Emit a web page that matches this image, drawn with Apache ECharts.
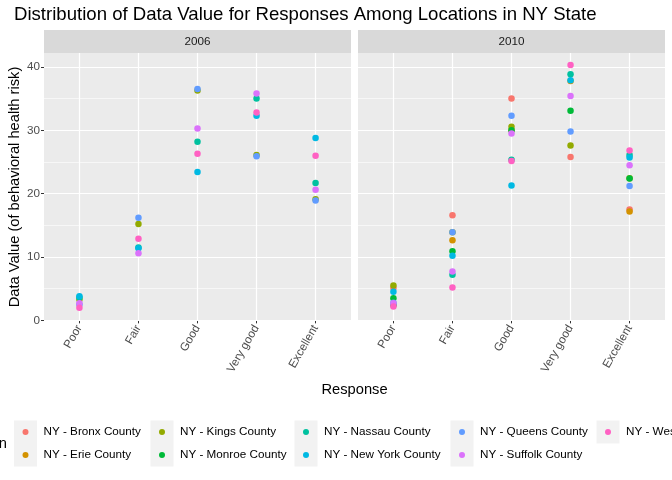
<!DOCTYPE html>
<html>
<head>
<meta charset="utf-8">
<script src="https://cdn.jsdelivr.net/npm/echarts@6/dist/echarts.min.js"></script>
<style>html,body{margin:0;padding:0;background:#fff}#c{width:672px;height:480px}</style>
</head>
<body>
<div id="c"></div>
<script>
// ---- data ----
var categories = ['Poor', 'Fair', 'Good', 'Very good', 'Excellent'];
var years = ['2006', '2010'];
var counties = ['NY - Bronx County', 'NY - Erie County', 'NY - Kings County', 'NY - Monroe County',
  'NY - Nassau County', 'NY - New York County', 'NY - Queens County', 'NY - Suffolk County',
  'NY - Westchester County'];
var colors = ['#F8766D', '#D39200', '#93AA00', '#00BA38', '#00C19F', '#00B9E3', '#619CFF', '#DB72FB', '#FF61C3'];
// values per county, in category order (null = no data that year)
var bronx2006 = null;
var erie2006 = null;
var kings2006 = [3.3, 15.2, 36.3, 26.1, 19.1];
var monroe2006 = null;
var nassau2006 = [3.6, 11.5, 28.2, 35.0, 21.7];
var newyork2006 = [3.8, 11.4, 23.4, 32.3, 28.8];
var queens2006 = [2.5, 16.2, 36.5, 25.9, 18.9];
var suffolk2006 = [2.7, 10.6, 30.3, 35.8, 20.6];
var westchester2006 = [2.0, 12.9, 26.3, 32.8, 26.0];

var bronx2010 = [5.1, 16.6, 35.0, 25.8, 17.5];
var erie2010 = [2.4, 12.65, 30.0, 37.8, 17.2];
var kings2010 = [5.5, 13.9, 30.55, 27.6, 22.45];
var monroe2010 = [3.5, 10.9, 30.0, 33.1, 22.4];
var nassau2010 = [2.5, 7.2, 25.35, 38.85, 26.1];
var newyork2010 = [4.5, 10.2, 21.3, 37.9, 25.7];
var queens2010 = [2.8, 13.9, 32.3, 29.8, 21.2];
var suffolk2010 = [2.7, 7.7, 29.5, 35.4, 24.5];
var westchester2010 = [2.2, 5.2, 25.15, 40.3, 26.8];

var yMajor = [0, 10, 20, 30, 40];
var yMinor = [5, 15, 25, 35];
var xPositions = [1, 2, 3, 4, 5];

var byYear = [
  [bronx2006, erie2006, kings2006, monroe2006, nassau2006, newyork2006, queens2006, suffolk2006, westchester2006],
  [bronx2010, erie2010, kings2010, monroe2010, nassau2010, newyork2010, queens2010, suffolk2010, westchester2010]
];

// ---- chart ----
var FONT = '"Liberation Sans", Arial, Helvetica, sans-serif';
var chart = echarts.init(document.getElementById('c'), null, {renderer: 'canvas'});
var panels = [{left: 44}, {left: 358}];
var PW = 307, PT = 53, PH = 268;

var grids = [], xAxes = [], yAxes = [], series = [], graphics = [];
panels.forEach(function (p, gi) {
  grids.push({left: p.left, top: PT, width: PW, height: PH, show: true, backgroundColor: '#EBEBEB', borderWidth: 0, containLabel: false});
  xAxes.push({
    type: 'value', gridIndex: gi, min: 0.4, max: 5.6,
    axisLine: {show: false},
    splitLine: {show: false},
    axisTick: {show: true, customValues: xPositions, length: 3, lineStyle: {color: '#333333', width: 1}},
    axisLabel: {customValues: xPositions, rotate: 60, margin: 5, color: '#4D4D4D', fontSize: 11.7, fontFamily: FONT,
      formatter: function (v) { return categories[Math.round(v) - 1] || ''; }}
  });
  yAxes.push({
    type: 'value', gridIndex: gi, min: -0.1, max: 42.2,
    axisLine: {show: false},
    splitLine: {show: false},
    axisTick: {show: gi === 0, customValues: yMajor, length: 3, lineStyle: {color: '#333333', width: 1}},
    axisLabel: {show: gi === 0, customValues: yMajor, margin: 4, color: '#4D4D4D', fontSize: 11.7, fontFamily: FONT},
    name: gi === 0 ? 'Data Value (of behavioral health risk)' : '',
    nameLocation: 'middle', nameRotate: 90, nameGap: 22,
    nameTextStyle: {color: '#000', fontSize: 14.7, fontFamily: FONT}
  });
  // grid lines via markLine on a helper series
  var ml = [];
  yMinor.forEach(function (v) { ml.push({yAxis: v, lineStyle: {width: 0.6, color: '#FFFFFF', type: 'solid'}}); });
  yMajor.forEach(function (v) { ml.push({yAxis: v, lineStyle: {width: 1.2, color: '#FFFFFF', type: 'solid'}}); });
  xPositions.forEach(function (v) { ml.push({xAxis: v, lineStyle: {width: 1.2, color: '#FFFFFF', type: 'solid'}}); });
  series.push({
    type: 'scatter', name: '_grid' + gi, xAxisIndex: gi, yAxisIndex: gi, data: [], z: 1,
    markLine: {silent: true, symbol: 'none', z: 1, label: {show: false}, animation: false, data: ml}
  });
  // strip
  graphics.push({type: 'rect', left: p.left, top: 30, shape: {width: PW, height: 23}, style: {fill: '#D9D9D9'}, z: 10});
  graphics.push({type: 'text', x: p.left + PW / 2, y: 42, style: {text: years[gi], fill: '#1A1A1A', font: '11.7px ' + FONT, textAlign: 'center', textVerticalAlign: 'middle'}, z: 11});
});

counties.forEach(function (name, ci) {
  for (var gi = 0; gi < 2; gi++) {
    var vals = byYear[gi][ci];
    var d = [];
    if (vals) vals.forEach(function (v, k) { if (v != null) d.push([xPositions[k], v]); });
    series.push({
      type: 'scatter', name: name, xAxisIndex: gi, yAxisIndex: gi, data: d,
      symbol: 'circle', symbolSize: 6.5, z: 3,
      itemStyle: {color: colors[ci], opacity: 1}
    });
  }
});

// legends: column-major, 2 rows
var legendCols = [14, 150.5, 294.5, 450.5, 596.5];
var legends = [];
for (var c = 0; c < 5; c++) {
  var items = counties.slice(c * 2, c * 2 + 2);
  legends.push({
    orient: 'vertical', left: legendCols[c] + 8.5, top: 420.5, padding: 0, itemGap: 0,
    itemWidth: 6, itemHeight: 6, icon: 'circle', selectedMode: false,
    data: items,
    textStyle: {color: '#000', fontSize: 11.7, fontFamily: FONT, lineHeight: 23, padding: [0, 0, 0, 10]}
  });
  graphics.push({type: 'rect', left: legendCols[c], top: 420.5, shape: {width: 23, height: 23 * items.length}, style: {fill: '#F2F2F2'}, z: -1});
}
graphics.push({type: 'text', x: 7, y: 443.5, style: {text: 'Location', fill: '#000', font: '14.7px ' + FONT, textAlign: 'right', textVerticalAlign: 'middle'}});
graphics.push({type: 'text', x: 354.5, y: 390, style: {text: 'Response', fill: '#000', font: '14.7px ' + FONT, textAlign: 'center', textVerticalAlign: 'middle'}});

chart.setOption({
  animation: false,
  color: colors,
  title: {text: 'Distribution of Data Value for Responses Among Locations in NY State', left: 14, top: 5, padding: 0,
    textStyle: {color: '#000', fontSize: 18.6, fontWeight: 'normal', fontFamily: FONT}},
  grid: grids, xAxis: xAxes, yAxis: yAxes, series: series, legend: legends, graphic: graphics
});
</script>
</body>
</html>
